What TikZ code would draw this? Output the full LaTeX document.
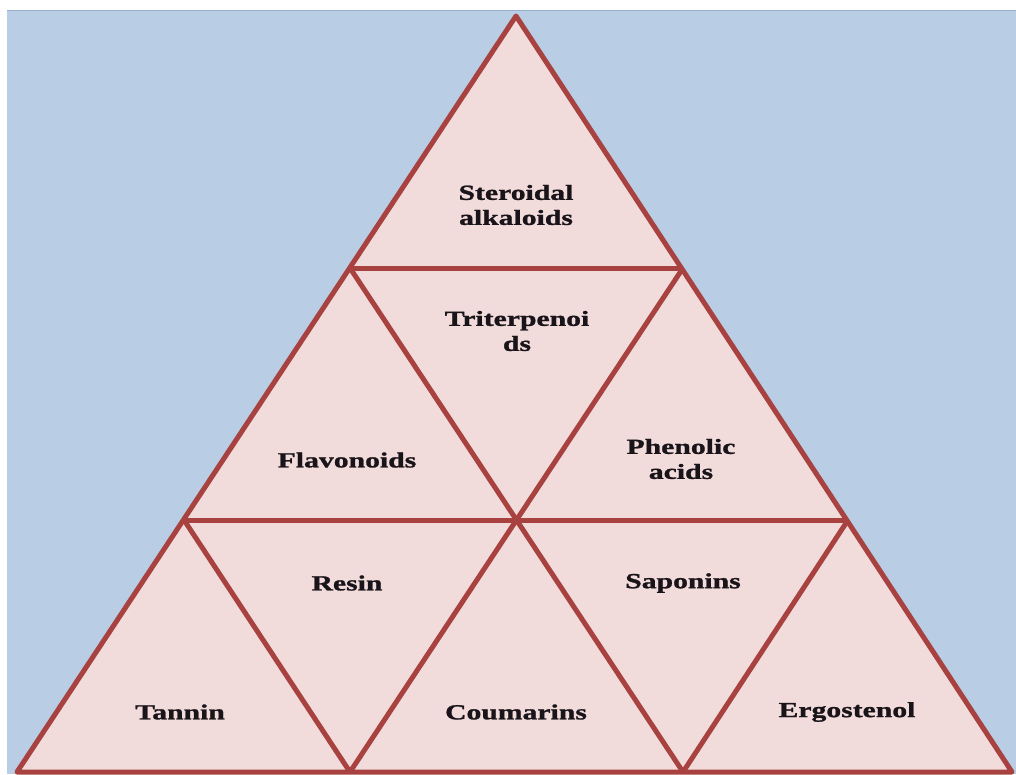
\documentclass[tikz,border=0pt]{standalone}
\usepackage{fontspec}
\newfontfamily\lblfont{Liberation Serif}[FakeStretch=1.38,FakeBold=1.2]
\definecolor{bgblue}{RGB}{185,205,229}
\definecolor{bgedge}{RGB}{150,175,205}
\definecolor{tripink}{RGB}{242,220,219}
\definecolor{triline}{RGB}{168,66,64}
\definecolor{lbltext}{RGB}{25,20,25}

\begin{document}
\begin{tikzpicture}[x=1pt,y=-1pt,
  tri/.style={draw=triline,line width=5pt,line join=round},
  lbl/.style={font=\lblfont\bfseries\fontsize{21.5}{25}\selectfont,text=lbltext,align=center,inner sep=0pt}]
\useasboundingbox (0,0) rectangle (1016,774);
\fill[bgblue] (7,10) rectangle (1016,774);
\draw[bgedge,line width=1.5pt] (7,10.5) -- (1016,10.5);

% corners of the small triangles, row by row
\coordinate (t) at (516,16);
\coordinate (l1) at (350,268);
\coordinate (r1) at (683,268);
\coordinate (l2) at (184,520);
\coordinate (m2) at (516,520);
\coordinate (r2) at (848,520);
\coordinate (l3) at (17,772);
\coordinate (a3) at (350,772);
\coordinate (b3) at (683,772);
\coordinate (r3) at (1012,772);

\fill[tripink] (t) -- (l3) -- (r3) -- cycle;
\draw[tri] (l1) -- (r1);
\draw[tri] (l2) -- (r2);
\draw[tri] (l1) -- (b3);
\draw[tri] (r1) -- (a3);
\draw[tri] (l2) -- (a3);
\draw[tri] (r2) -- (b3);
\draw[tri] (t) -- (l3) -- (r3) -- cycle;

% labels
\node[lbl] (steroidal) at (516,205) {Steroidal\\alkaloids};
\node[lbl] (triterp) at (517,331) {Triterpenoi\\ds};
\node[lbl] (flavo) at (347,460) {Flavonoids};
\node[lbl] (phenolic) at (681,459) {Phenolic\\acids};
\node[lbl] (resin) at (347,583) {Resin};
\node[lbl] (saponins) at (683,583) {Saponins};
\node[lbl] (tannin) at (180,712) {Tannin};
\node[lbl] (coumarins) at (516,712) {Coumarins};
\node[lbl] (ergo) at (847,712) {Ergostenol};
%\draw[help lines] (0,0) grid[step=50] (1016,774);
\end{tikzpicture}
\end{document}
